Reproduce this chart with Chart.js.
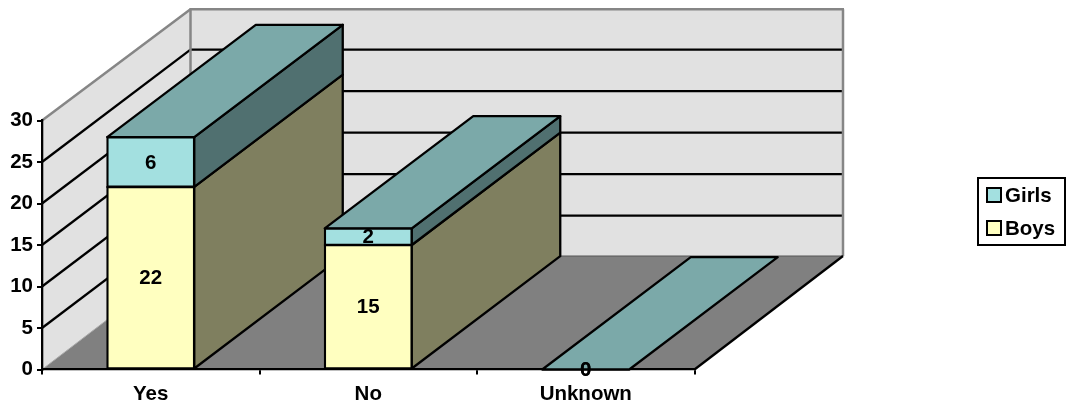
<!DOCTYPE html>
<html>
<head>
<meta charset="utf-8">
<title>Yes / No / Unknown by gender</title>
<style>
  html, body { margin:0; padding:0; background:#fff; overflow:hidden; }
  canvas { display:block; }
</style>
<script src="https://cdn.jsdelivr.net/npm/chart.js@4/dist/chart.umd.min.js"></script>
</head>
<body>
<canvas id="chart" width="1067" height="407"></canvas>
<script>
// data
const categories = ['Yes', 'No', 'Unknown'];
const boys  = [22, 15, 0];
const girls = [6, 2, 0];

// colours
const colorBoys = '#FFFFC0', colorBoysSide = '#7F7F5F';
const colorGirls = '#A3E0E0', colorGirlsSide = '#507070', colorGirlsTop = '#7BA9A9';
const colorWall = '#E1E1E1', colorFloor = '#808080', colorEdge = '#868686';

// 3D depth of the plot box
const depthX = 148.5, depthY = 112.3;
const wallTopY = 9.3, floorBackY = 256;
const LW = 2.3;
const FONT_FAMILY = '"Liberation Sans", Arial, sans-serif';
const FONT = 'bold 20.5px ' + FONT_FAMILY;

function poly(ctx, pts, fill, stroke, lw){
  ctx.beginPath();
  pts.forEach((p, i) => i ? ctx.lineTo(p[0], p[1]) : ctx.moveTo(p[0], p[1]));
  ctx.closePath();
  if (fill) { ctx.fillStyle = fill; ctx.fill(); }
  if (stroke) { ctx.strokeStyle = stroke; ctx.lineWidth = lw || LW; ctx.lineJoin = 'round'; ctx.stroke(); }
}
function line(ctx, x1, y1, x2, y2, color, lw){
  ctx.beginPath(); ctx.moveTo(x1, y1); ctx.lineTo(x2, y2);
  ctx.strokeStyle = color; ctx.lineWidth = lw; ctx.stroke();
}

// walls, floor and gridlines behind the bars
const wallsPlugin = {
  id: 'walls',
  beforeDraw(c){
    const {ctx, chartArea:{left, right, top, bottom}, scales:{y}} = c;
    const dx = depthX, dy = depthY;
    ctx.save();
    poly(ctx, [[left,top],[left+dx,wallTopY],[left+dx,floorBackY],[left,bottom]], colorWall);
    poly(ctx, [[left+dx,wallTopY],[right+dx,wallTopY],[right+dx,floorBackY],[left+dx,floorBackY]], colorWall);
    poly(ctx, [[left,bottom],[right,bottom],[right+dx,floorBackY],[left+dx,floorBackY]], colorFloor);
    y.ticks.forEach(t => {
      if (t.value === 0 || t.value === y.max) return;
      const py = y.getPixelForValue(t.value);
      line(ctx, left, py, left+dx, py-dy, '#000', LW);
      line(ctx, left+dx, py-dy, right+dx, py-dy, '#000', LW);
    });
    line(ctx, left, top, left+dx, wallTopY, colorEdge, 2.5);
    line(ctx, left+dx-1, wallTopY, right+dx+1, wallTopY, colorEdge, 2.5);
    line(ctx, left+dx, wallTopY, left+dx, floorBackY, colorEdge, 2.5);
    line(ctx, right+dx, wallTopY, right+dx, floorBackY, colorEdge, 2.5);
    line(ctx, left+dx, floorBackY, right+dx, floorBackY, '#555', 1);
    line(ctx, left, bottom, left+dx, floorBackY, '#aaa', 1);
    line(ctx, right, bottom, right+dx, floorBackY, '#000', LW);
    ctx.restore();
  }
};

// side and top faces of the bars, drawn from the bar elements
const facesPlugin = {
  id: 'faces',
  beforeDatasetsDraw(c){
    const {ctx} = c;
    const dx = depthX, dy = depthY;
    const sides = [colorBoysSide, colorGirlsSide];
    const last = c.data.datasets.length - 1;
    ctx.save();
    categories.forEach((_, i) => {
      c.data.datasets.forEach((ds, d) => {
        const el = c.getDatasetMeta(d).data[i];
        const half = el.width / 2;
        const xr = el.x + half, xl = el.x - half;
        if (el.base - el.y > 0) {
          poly(ctx, [[xr,el.base],[xr,el.y],[xr+dx,el.y-dy],[xr+dx,el.base-dy]], sides[d], '#000');
        }
        if (d === last) {
          poly(ctx, [[xl,el.y],[xr,el.y],[xr+dx,el.y-dy],[xl+dx,el.y-dy]], colorGirlsTop, '#000');
        }
      });
    });
    ctx.restore();
  }
};

// value labels and legend
const labelsPlugin = {
  id: 'labels3d',
  afterDatasetsDraw(c){
    const {ctx} = c;
    ctx.save();
    ctx.font = FONT;
    ctx.textAlign = 'center';
    ctx.textBaseline = 'middle';
    ctx.fillStyle = '#000';
    c.data.datasets.forEach((ds, d) => {
      c.getDatasetMeta(d).data.forEach((el, i) => {
        ctx.fillText(String(ds.data[i]), el.x, (el.y + el.base) / 2 + 1);
      });
    });
    // legend box
    ctx.fillStyle = '#fff';
    ctx.strokeStyle = '#000';
    ctx.lineWidth = 2;
    ctx.fillRect(978, 178, 87, 67);
    ctx.strokeRect(978, 178, 87, 67);
    const rows = [{label:c.data.datasets[1].label, color:colorGirls, y:195},
                  {label:c.data.datasets[0].label, color:colorBoys,  y:228}];
    ctx.textAlign = 'left';
    rows.forEach(r => {
      ctx.fillStyle = r.color;
      ctx.fillRect(987, r.y-7, 14, 14);
      ctx.strokeRect(987, r.y-7, 14, 14);
      ctx.fillStyle = '#000';
      ctx.fillText(r.label, 1005, r.y + 1);
    });
    ctx.restore();
  }
};

new Chart(document.getElementById('chart').getContext('2d'), {
  type: 'bar',
  data: {
    labels: categories,
    datasets: [
      {label:'Boys',  data:boys,  backgroundColor:colorBoys,  borderColor:'#000', borderWidth:LW, borderSkipped:false, inflateAmount:1},
      {label:'Girls', data:girls, backgroundColor:colorGirls, borderColor:'#000', borderWidth:LW, borderSkipped:false, inflateAmount:1}
    ]
  },
  options: {
    responsive:false,
    animation:false,
    devicePixelRatio:1,
    layout:{ padding:{ top:120.5, right:372.5, bottom:0, left:0 } },
    datasets:{ bar:{ categoryPercentage:0.4, barPercentage:1 } },
    plugins:{ legend:{ display:false }, tooltip:{ enabled:false } },
    scales:{
      x:{
        stacked:true,
        afterFit: s => { s.height = 37.5; },
        border:{ color:'#000', width:LW },
        grid:{ drawOnChartArea:false, color:'#000', tickColor:'#000', tickLength:5, lineWidth:2 },
        ticks:{ color:'#000', font:{ family:FONT_FAMILY, size:20.5, weight:'bold' }, maxRotation:0, padding:8 }
      },
      y:{
        stacked:true, min:0, max:30,
        afterFit: s => { s.width = 42; },
        border:{ color:'#000', width:LW },
        grid:{ drawOnChartArea:false, color:'#000', tickColor:'#000', tickLength:5, lineWidth:2 },
        ticks:{ stepSize:5, color:'#000', font:{ family:FONT_FAMILY, size:20.5, weight:'bold' }, padding:4 }
      }
    }
  },
  plugins:[wallsPlugin, facesPlugin, labelsPlugin]
});
</script>
</body>
</html>
